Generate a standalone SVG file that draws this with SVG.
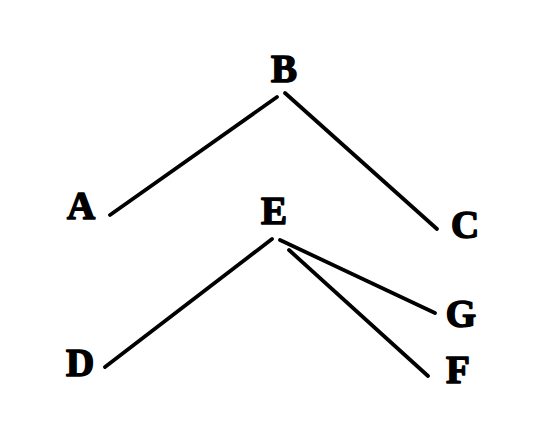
<svg xmlns="http://www.w3.org/2000/svg" width="544" height="447" viewBox="0 0 544 447">
<style>
.lbl{font-family:"Liberation Serif","DejaVu Serif",serif;font-weight:bold;font-size:39px;fill:#000;stroke:#000;stroke-width:1.6;stroke-linejoin:round;text-anchor:middle}
.edge{stroke:#000;stroke-width:3.8;stroke-linecap:round;fill:none}
</style>
<rect width="544" height="447" fill="#fff"/>
<g id="connectors">
<line class="edge" x1="277" y1="97" x2="110" y2="215"/>
<line class="edge" x1="285" y1="93" x2="437" y2="229"/>
<line class="edge" x1="272" y1="239" x2="105" y2="367"/>
<line class="edge" x1="280" y1="240" x2="435" y2="313"/>
<line class="edge" x1="289" y1="250" x2="428" y2="376"/>
</g>
<g id="B"><text class="lbl" x="284" y="82">B</text></g>
<g id="A"><text class="lbl" x="81" y="219">A</text></g>
<g id="C"><text class="lbl" x="465" y="238">C</text></g>
<g id="E"><text class="lbl" x="274" y="224">E</text></g>
<g id="G"><text class="lbl" x="461" y="327">G</text></g>
<g id="D"><text class="lbl" x="80" y="376">D</text></g>
<g id="F"><text class="lbl" x="458" y="383">F</text></g>
</svg>
